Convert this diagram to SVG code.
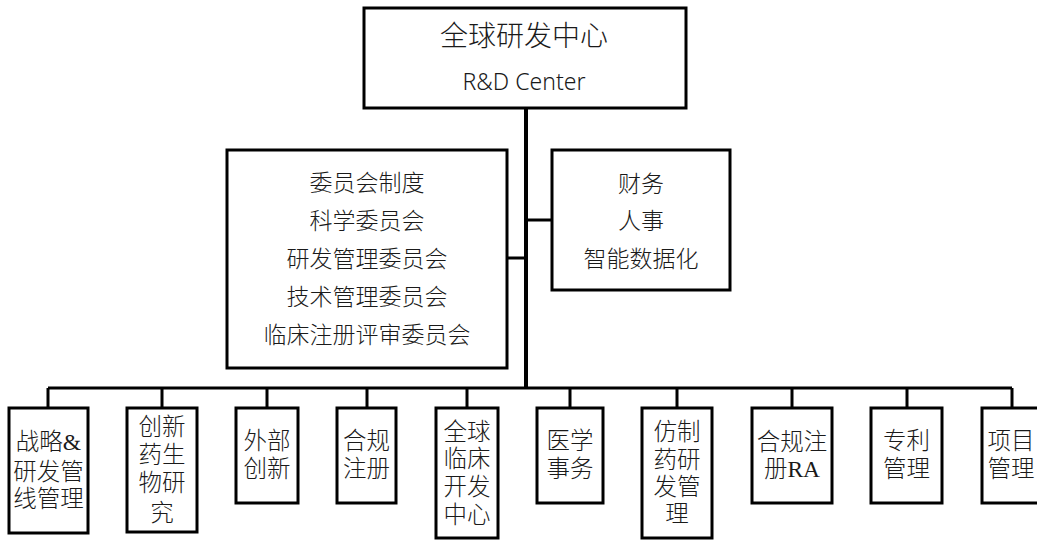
<svg xmlns="http://www.w3.org/2000/svg" width="1037" height="540" viewBox="0 0 1037 540">
<style>
.box{fill:#fff;stroke:#000;stroke-width:3}
.ln{stroke:#000;stroke-width:3;fill:none}
.trunk{stroke:#000;stroke-width:4;fill:none}
.t{font-family:"Noto Sans CJK SC","Noto Sans",sans-serif;font-weight:300;fill:#1a1a1a;text-anchor:middle}
.m{font-size:23px}
.b{font-family:"Liberation Serif","Noto Sans CJK SC",serif;font-weight:300;font-size:23.5px;fill:#1a1a1a;text-anchor:middle}
</style>
<rect width="1037" height="540" fill="#fff"/>
<g id="connectors">
<path class="trunk" d="M526 108V389"/>
<path class="ln" d="M507 258H526M526 220H552"/>
<path class="ln" d="M48 388H1012M48 388V408M162 388V408M267 388V408M367 388V408M467 388V408M570 388V408M677 388V408M792 388V408M907 388V408M1012 388V408"/>
</g>
<g id="root">
<rect class="box" x="364" y="8" width="322" height="100"/>
<text class="t" x="524" y="46" font-size="28">全球研发中心</text>
<text class="t" x="524" y="90" font-size="23" style="font-family:'Noto Sans',sans-serif">R&amp;D Center</text>
</g>
<g id="committees">
<rect class="box" x="227" y="150" width="280" height="218"/>
<text class="t m" x="367" y="191">委员会制度</text>
<text class="t m" x="367" y="229">科学委员会</text>
<text class="t m" x="367" y="267">研发管理委员会</text>
<text class="t m" x="367" y="305">技术管理委员会</text>
<text class="t m" x="367" y="343">临床注册评审委员会</text>
</g>
<g id="support">
<rect class="box" x="552" y="150" width="178" height="140"/>
<text class="t m" x="641" y="192">财务</text>
<text class="t m" x="641" y="229">人事</text>
<text class="t m" x="641" y="267">智能数据化</text>
</g>
<g id="n1">
<rect class="box" x="9" y="408" width="79" height="125"/>
<text class="b" x="48.5" y="450">战略&amp;</text>
<text class="b" x="48.5" y="480">研发管</text>
<text class="b" x="48.5" y="507">线管理</text>
</g>
<g id="n2">
<rect class="box" x="127" y="408" width="70" height="124"/>
<text class="b" x="162" y="435">创新</text>
<text class="b" x="162" y="463">药生</text>
<text class="b" x="162" y="491">物研</text>
<text class="b" x="162" y="521">究</text>
</g>
<g id="n3">
<rect class="box" x="236" y="408" width="62" height="95"/>
<text class="b" x="267" y="449">外部</text>
<text class="b" x="267" y="477">创新</text>
</g>
<g id="n4">
<rect class="box" x="337" y="408" width="59" height="95"/>
<text class="b" x="366.5" y="449">合规</text>
<text class="b" x="366.5" y="477">注册</text>
</g>
<g id="n5">
<rect class="box" x="436" y="408" width="62" height="130"/>
<text class="b" x="467" y="440">全球</text>
<text class="b" x="467" y="467">临床</text>
<text class="b" x="467" y="495">开发</text>
<text class="b" x="467" y="523">中心</text>
</g>
<g id="n6">
<rect class="box" x="537" y="408" width="66" height="95"/>
<text class="b" x="570" y="449">医学</text>
<text class="b" x="570" y="477">事务</text>
</g>
<g id="n7">
<rect class="box" x="642" y="408" width="70" height="130"/>
<text class="b" x="677" y="440">仿制</text>
<text class="b" x="677" y="468">药研</text>
<text class="b" x="677" y="495">发管</text>
<text class="b" x="677" y="522">理</text>
</g>
<g id="n8">
<rect class="box" x="752" y="408" width="80" height="95"/>
<text class="b" x="792" y="450">合规注</text>
<text class="b" x="792" y="477">册RA</text>
</g>
<g id="n9">
<rect class="box" x="871" y="408" width="71" height="95"/>
<text class="b" x="906.5" y="449">专利</text>
<text class="b" x="906.5" y="477">管理</text>
</g>
<g id="n10">
<rect class="box" x="982" y="408" width="60" height="95"/>
<text class="b" x="1011" y="449">项目</text>
<text class="b" x="1011" y="477">管理</text>
</g>
</svg>
